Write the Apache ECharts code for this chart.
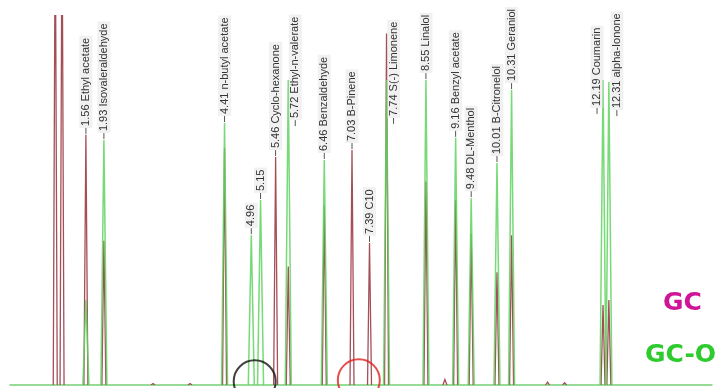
<!DOCTYPE html>
<html>
<head>
<meta charset="utf-8">
<script src="https://cdn.jsdelivr.net/npm/echarts@6/dist/echarts.min.js"></script>
<style>
  html, body { margin: 0; padding: 0; background: #fff; }
  #chart { width: 715px; height: 388px; }
</style>
</head>
<body>
<div id="chart"></div>
<script>
// retention times (min) and peak heights (% of full scale)
const gcTimes = [0.93, 1.07, 1.56, 1.93, 2.94, 3.7, 4.41, 5.46, 5.72, 6.46, 7.03, 7.39, 7.74, 8.55, 8.94, 9.16, 9.48, 10.01, 10.31, 11.05, 11.4, 12.19, 12.31];
const gcHeights = [130, 130, 67.6, 39, 0.4, 0.4, 64, 61.6, 32, 48.6, 63.5, 38.4, 95, 55, 1.5, 50, 41, 30.5, 40.5, 0.8, 0.6, 21.6, 23];
const gcoTimes = [1.56, 1.93, 4.41, 4.96, 5.15, 5.72, 6.46, 7.74, 8.55, 9.16, 9.48, 10.01, 10.31, 12.19, 12.31];
const gcoHeights = [23, 66.2, 70.8, 40.5, 50, 82.4, 60.8, 82.4, 82.4, 66.8, 50.5, 60, 79.7, 82.4, 81.9];

// peak labels
const labelTimes = [1.56, 1.93, 4.41, 4.96, 5.15, 5.46, 5.72, 6.46, 7.03, 7.39, 7.74, 8.55, 9.16, 9.48, 10.01, 10.31, 12.19, 12.31];
const labelNames = ['Ethyl acetate', 'Isovaleraldehyde', 'n-butyl acetate', '', '', 'Cyclo-hexanone', 'Ethyl-n-valerate', 'Benzaldehyde', 'B-Pinene', 'C10', 'S(-) Limonene', 'Linalol', 'Benzyl acetate', 'DL-Menthol', 'B-Citronelol', 'Geraniol', 'Coumarin', 'alpha-Ionone'];
const labelHeights = [67.6, 66.2, 70.8, 40.5, 50, 61.6, 69.7, 60.8, 63.5, 38.4, 70.3, 82.4, 66.8, 50.5, 60, 79.7, 73, 72.4];

// circled regions
const circleTimes = [5.03, 7.17];

// labels that are pushed beside their peak (px)
const labelShift = { 6: 7, 10: 7, 16: -6, 17: 8 };

const chart = echarts.init(document.getElementById('chart'));

function peakItem(halfWidth, color, width) {
  return function (params, api) {
    const base = api.coord([api.value(0), 0]);
    const top = api.coord([api.value(0), api.value(1)]);
    return {
      type: 'polyline',
      shape: { points: [[top[0] - halfWidth, base[1]], [top[0], top[1]], [top[0] + halfWidth, base[1]]] },
      style: { stroke: color, lineWidth: width, fill: null }
    };
  };
}

chart.setOption({
  animation: false,
  grid: { left: 10, right: 3, top: 15, bottom: 3 },
  xAxis: {
    type: 'value', min: 0, max: 14.43,
    axisLine: { show: true, lineStyle: { color: '#74cf74', width: 1.5 } },
    axisTick: { show: false },
    axisLabel: { show: false },
    splitLine: { show: false }
  },
  yAxis: {
    type: 'value', min: 0, max: 100, show: false,
    splitLine: { show: false }
  },
  series: [
    {
      name: 'GC',
      type: 'custom',
      clip: true,
      renderItem: peakItem(2, '#a44f58', 1.3),
      data: gcTimes.map((t, i) => [t, gcHeights[i]])
    },
    {
      name: 'GC-O',
      type: 'custom',
      clip: true,
      renderItem: peakItem(3, 'rgba(95,210,95,0.85)', 1.5),
      data: gcoTimes.map((t, i) => [t, gcoHeights[i]])
    },
    {
      type: 'custom',
      clip: false,
      renderItem: function (params, api) {
        const i = params.dataIndex;
        const p = api.coord([api.value(0), api.value(1)]);
        const x = p[0] + (labelShift[i] || 0);
        const name = labelNames[i];
        const text = labelTimes[i].toFixed(2) + (name ? ' ' + name : '');
        return {
          type: 'group',
          children: [
            { type: 'line', shape: { x1: x, y1: p[1] - 1, x2: x, y2: p[1] - 7 },
              style: { stroke: '#555', lineWidth: 1 } },
            { type: 'text', x: x, y: p[1] - 7, rotation: Math.PI / 2,
              style: {
                text: text, textAlign: 'left', textVerticalAlign: 'middle',
                font: '11px "Liberation Sans", Arial, sans-serif', fill: '#333',
                backgroundColor: 'rgba(225,225,225,0.45)', padding: [1, 2]
              } }
          ]
        };
      },
      data: labelTimes.map((t, i) => [t, labelHeights[i]])
    },
    {
      type: 'scatter',
      symbol: 'circle',
      symbolSize: 42,
      clip: false,
      silent: true,
      data: [
        { value: [circleTimes[0], 1], itemStyle: { color: 'rgba(0,0,0,0)', borderColor: '#111', borderWidth: 2 } },
        { value: [circleTimes[1], 1.3], itemStyle: { color: 'rgba(0,0,0,0)', borderColor: '#e02020', borderWidth: 2 } }
      ]
    }
  ],
  graphic: [
    { type: 'text', left: 663, top: 291,
      style: { text: 'GC', font: 'bold 25px "DejaVu Sans", sans-serif', fill: '#cf1597' } },
    { type: 'text', left: 645, top: 343,
      style: { text: 'GC-O', font: 'bold 25px "DejaVu Sans", sans-serif', fill: '#2ecb2e' } }
  ]
});
</script>
</body>
</html>
